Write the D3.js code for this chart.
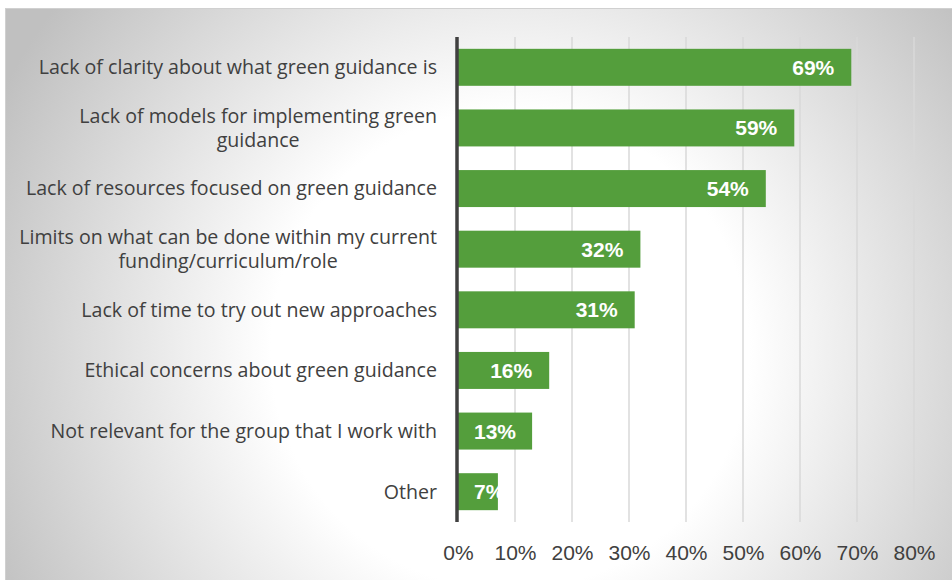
<!DOCTYPE html>
<html>
<head>
<meta charset="utf-8">
<script src="https://cdn.jsdelivr.net/npm/d3@7"></script>
<style>
  html, body { margin: 0; padding: 0; background: #ffffff; }
  svg { display: block; }
</style>
</head>
<body>
<svg id="chart" width="952" height="580"></svg>
<script>
// Reasons reported as barriers to green guidance (share of respondents, %)
const categories = [
  "Lack of clarity about what green guidance is",
  "Lack of models for implementing green\nguidance",
  "Lack of resources focused on green guidance",
  "Limits on what can be done within my current\nfunding/curriculum/role",
  "Lack of time to try out new approaches",
  "Ethical concerns about green guidance",
  "Not relevant for the group that I work with",
  "Other"
];
const values = [69, 59, 54, 32, 31, 16, 13, 7];
const tickValues = [0, 10, 20, 30, 40, 50, 60, 70, 80];

const W = 952, H = 580;
const svg = d3.select("#chart");

// Panel background with soft radial shading
const defs = svg.append("defs");
const grad = defs.append("radialGradient")
  .attr("id", "bg")
  .attr("gradientUnits", "userSpaceOnUse")
  .attr("cx", 510).attr("cy", 350).attr("r", 570);
grad.append("stop").attr("offset", 0).attr("stop-color", "#ffffff");
grad.append("stop").attr("offset", 0.42).attr("stop-color", "#ffffff");
grad.append("stop").attr("offset", 1).attr("stop-color", "#c0c0c0");

svg.append("rect")
  .attr("x", 5.5).attr("y", 8.5)
  .attr("width", W - 5).attr("height", H - 8)
  .attr("fill", "url(#bg)")
  .attr("stroke", "#d0d0d0").attr("stroke-width", 1);

const plot = { left: 458, right: 914, top: 37, bottom: 522 };

const x = d3.scaleLinear().domain([0, 80]).range([plot.left, plot.right]);
const y = d3.scaleBand().domain(categories)
  .range([plot.top, plot.bottom])
  .paddingInner(0.39).paddingOuter(0.195);

// Vertical gridlines
svg.append("g").selectAll("line")
  .data(tickValues.filter(d => d > 0))
  .join("line")
  .attr("x1", d => x(d)).attr("x2", d => x(d))
  .attr("y1", plot.top).attr("y2", plot.bottom)
  .attr("stroke", "#d9d9d9").attr("stroke-width", 1.5);

// Bars
svg.append("g").selectAll("rect")
  .data(values)
  .join("rect")
  .attr("x", x(0))
  .attr("y", (d, i) => y(categories[i]))
  .attr("width", d => x(d) - x(0))
  .attr("height", y.bandwidth())
  .attr("fill", "#549e3c");

// Category axis line
svg.append("line")
  .attr("x1", x(0) - 1).attr("x2", x(0) - 1)
  .attr("y1", plot.top).attr("y2", plot.bottom)
  .attr("stroke", "#404040").attr("stroke-width", 3.5);

// Bottom axis tick labels
const xAxis = d3.axisBottom(x)
  .tickValues(tickValues)
  .tickFormat(d => d + "%")
  .tickSize(0).tickPadding(0);
const gx = svg.append("g")
  .attr("transform", `translate(0, 545)`)
  .call(xAxis);
gx.select(".domain").remove();
gx.selectAll("text")
  .attr("font-family", "'Liberation Sans', Arial, sans-serif")
  .attr("font-size", 21)
  .attr("fill", "#404040")
  .attr("dy", "0.72em");

// Category labels (right aligned block, lines centred within it)
const labelRight = 437;
const lineH = 24.5;
const labelFont = "'Open Sans', sans-serif";
const labels = svg.append("g")
  .attr("font-family", labelFont)
  .attr("font-size", 19.6)
  .attr("fill", "#404040");

categories.forEach((c, i) => {
  const lines = c.split("\n");
  const cy = y(c) + y.bandwidth() / 2;
  const t = labels.append("text").attr("text-anchor", "middle");
  const tspans = lines.map((ln, k) => t.append("tspan")
    .attr("y", cy + (k - (lines.length - 1) / 2) * lineH)
    .attr("dy", "0.35em")
    .text(ln));
  const widths = tspans.map(s => s.node().getComputedTextLength());
  const blockW = d3.max(widths);
  tspans.forEach(s => s.attr("x", labelRight - blockW / 2));
});

// Value labels inside bar ends
const vals = svg.append("g")
  .attr("font-family", "'Liberation Sans', Arial, sans-serif")
  .attr("font-size", 21)
  .attr("font-weight", "bold")
  .attr("fill", "#ffffff");

values.forEach((v, i) => {
  const t = vals.append("text")
    .attr("y", y(categories[i]) + y.bandwidth() / 2)
    .attr("dy", "0.36em")
    .attr("text-anchor", "start")
    .text(v + "%");
  const w = t.node().getComputedTextLength();
  const start = Math.max(x(0) + 16, x(v) - 17 - w);
  t.attr("x", start);
});
</script>
</body>
</html>
